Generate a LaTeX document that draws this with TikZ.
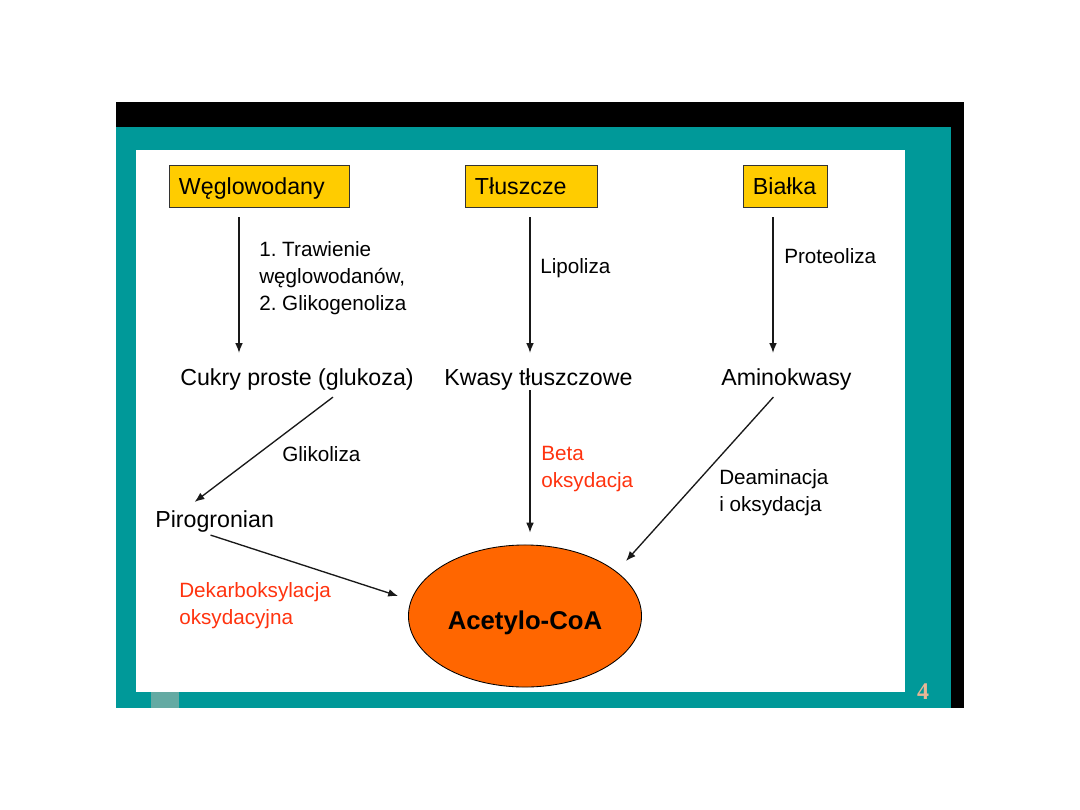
\documentclass[tikz,border=0pt]{standalone}
\usepackage{fontspec}
\setmainfont{Liberation Sans}
\newfontfamily\slidenumfont{Liberation Serif}
\usepackage{tikz}
\usetikzlibrary{calc}
\usetikzlibrary{arrows.meta}
\usetikzlibrary{shapes.geometric}

\definecolor{slideteal}{RGB}{0,153,153}
\definecolor{paleteal}{RGB}{100,170,163}
\definecolor{boxyellow}{RGB}{255,204,0}
\definecolor{coaorange}{RGB}{255,102,0}
\definecolor{pathred}{RGB}{255,51,15}
\definecolor{numpeach}{RGB}{232,182,150}

\newcommand{\boxtext}[2]{\makebox[#1][l]{#2}}

\tikzset{
    source/.style={draw=black!80, line width=0.6pt, fill=boxyellow, inner xsep=0.25cm, inner ysep=0pt,
        minimum height=1.05cm, text height=11.4pt, text depth=0pt,
        font=\fontsize{16.5}{19.8}\selectfont},
    product/.style={inner sep=0pt, anchor=base west, font=\fontsize{16.5}{19.8}\selectfont},
    process/.style={inner sep=0pt, anchor=base west, align=left, font=\fontsize{14.7}{18.9}\selectfont},
    redprocess/.style={process, text=pathred},
    target/.style={ellipse, draw=black, line width=0.6pt, fill=coaorange, inner sep=0pt,
        minimum width=5.825cm, minimum height=3.55cm, text height=18.5pt, text depth=0pt,
        font=\fontsize{18.3}{22}\selectfont\bfseries},
    flow/.style={-{Latex[length=7pt,width=5.5pt]}, line width=0.95pt, black!90}
}

\begin{document}
\begin{tikzpicture}[x=0.025cm, y=-0.025cm]
    \useasboundingbox (0,0) rectangle (1080,810);
    \fill[white] (0,0) rectangle (1080,810);
    \fill[black] (116,102) rectangle (964,708);
    \fill[slideteal] (116,127) rectangle (951,708);
    \fill[white] (136,150) rectangle (905,692);
    \fill[paleteal] (151,692) rectangle (179,708);
    \node[font=\slidenumfont\bfseries\fontsize{17}{20}\selectfont, text=numpeach, inner sep=0pt, anchor=base] (pagenum) at (923,699) {4};

    \node[source] (wegl) at (259,186) {\boxtext{4cm}{Węglowodany}};
    \node[source] (tlusz) at (531,186) {\boxtext{2.8cm}{Tłuszcze}};
    \node[source] (bialka) at (785,186) {\boxtext{1.6cm}{Białka}};

    \node[product] (cukry) at (180,385) {Cukry proste (glukoza)};
    \node[product] (kwasy) at (444,385) {Kwasy tłuszczowe};
    \node[product] (amino) at (721,385) {Aminokwasy};
    \node[product] (pirog) at (155,527) {Pirogronian};
    \node[target] (acetyl) at (525,616) {Acetylo-CoA};

    \node[process] (trawienie) at (259,310) {1.\ Trawienie\\węglowodanów,\\2.\ Glikogenoliza};
    \node[process] (lipoliza) at (540,273) {Lipoliza};
    \node[process] (proteoliza) at (784,263) {Proteoliza};
    \node[process] (glikoliza) at (282,461) {Glikoliza};
    \node[redprocess] (beta) at (541,487) {Beta\\oksydacja};
    \node[process] (deamin) at (719,511) {Deaminacja\\i oksydacja};
    \node[redprocess] (dekarb) at (179,624) {Dekarboksylacja\\oksydacyjna};

    \draw[flow] ($(wegl.south)+(-20,10)$) -- ($(cukry.north -| wegl.south)+(-20,-15)$);
    \draw[flow] ($(tlusz.south)+(-1,10)$) -- ($(kwasy.north -| tlusz.south)+(-1,-15)$);
    \draw[flow] ($(bialka.south)+(-12,10)$) -- ($(amino.north -| bialka.south)+(-12,-15)$);
    \draw[flow] ($(cukry.south)+(36,7)$) -- ($(pirog.north)+(-20,-8)$);
    \draw[flow] ($(kwasy.south -| tlusz.south)+(-1,0)$) -- ($(acetyl.north -| tlusz.south)+(-1,-12)$);
    \draw[flow] ($(pirog.south)+(-4,3)$) -- ($(acetyl.west)+(-10,-20)$);
    \draw[flow] ($(amino.south)+(-13,7)$) -- ($(acetyl.center)+(101,-55)$);
\end{tikzpicture}
\end{document}
